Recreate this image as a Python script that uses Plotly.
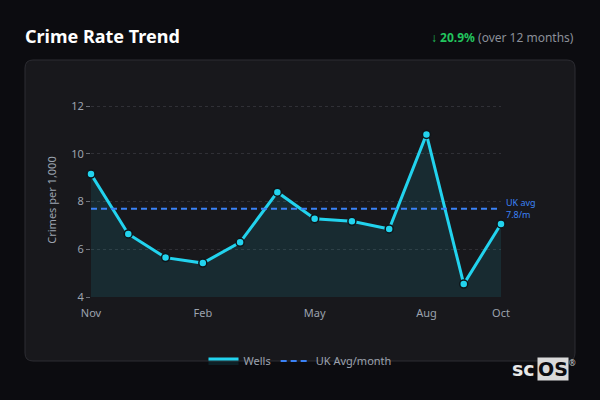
import plotly.graph_objects as go

months = ["Nov", "Dec", "Jan", "Feb", "Mar", "Apr", "May", "Jun", "Jul", "Aug", "Sep", "Oct"]
wells = [9.15, 6.64, 5.65, 5.42, 6.29, 8.39, 7.28, 7.17, 6.85, 10.81, 4.54, 7.06]
uk_avg = [7.7] * len(months)
tick_months = ["Nov", "Feb", "May", "Aug", "Oct"]
y_ticks = [4, 6, 8, 10, 12]

BG = "#0c0c10"
CARD = "#18181c"
CYAN = "#22d3ee"
BLUE = "#3b82f6"
GREY = "#9ca3af"

# plot area in pixels: x 91..501, y 103..297 (value 12 sits at y=106)
L, R, T, B = 91, 501, 103, 297
Y_TOP = 4 + 8 * (B - T) / (B - 106)


def px(x):
    return (x - L) / (R - L)


def py(y):
    return (B - y) / (B - T)


def rounded_rect(x0, y0, x1, y1, r):
    rx, ry = r / (R - L), r / (B - T)
    a, b, c, d = px(x0), py(y1), px(x1), py(y0)  # left, bottom, right, top
    return (f"M {a+rx},{b} L {c-rx},{b} Q {c},{b} {c},{b+ry} "
            f"L {c},{d-ry} Q {c},{d} {c-rx},{d} L {a+rx},{d} "
            f"Q {a},{d} {a},{d-ry} L {a},{b+ry} Q {a},{b} {a+rx},{b} Z")


fig = go.Figure()
fig.add_trace(go.Scatter(
    x=months, y=wells, name="Wells", mode="lines",
    line=dict(color=CYAN, width=3),
    fill="tozeroy", fillcolor="rgba(34,211,238,0.10)",
))
fig.add_trace(go.Scatter(
    x=months, y=uk_avg, name="UK Avg/month", mode="lines",
    line=dict(color=BLUE, width=2, dash="6px,4px"),
))
fig.add_trace(go.Scatter(
    x=months, y=wells, name="Wells", mode="markers", showlegend=False,
    cliponaxis=False,
    marker=dict(size=8, color=CYAN, line=dict(color="#0e1418", width=1.5)),
))

fig.add_shape(type="path", xref="paper", yref="paper", layer="below",
              path=rounded_rect(25, 60, 575, 361, 8),
              fillcolor=CARD, line=dict(color="#2c2c32", width=1))

fig.add_annotation(x=months[-1], y=uk_avg[-1], text="UK avg<br>7.8/m",
                   showarrow=False, xanchor="left", yanchor="middle", xshift=3,
                   align="left", font=dict(size=9, color=BLUE))
fig.add_annotation(x=px(576), y=py(37), xref="paper", yref="paper",
                   xanchor="right", yanchor="middle", showarrow=False,
                   text="<span style='color:#22c55e'><b>↓ 20.9%</b></span> (over 12 months)",
                   font=dict(size=12, color="#8b8f98"))
fig.add_annotation(x=px(537), y=py(369), xref="paper", yref="paper",
                   xanchor="right", yanchor="middle", showarrow=False,
                   text="<b>sc</b>", font=dict(size=19, color="#e8e8e8", family="DejaVu Sans"))
fig.add_annotation(x=px(537), y=py(369), xref="paper", yref="paper",
                   xanchor="left", yanchor="middle", showarrow=False,
                   text="<b>OS</b>", bgcolor="#d9d9d9", borderpad=0,
                   font=dict(size=19, color="#0c0c10", family="DejaVu Sans"))
fig.add_annotation(x=px(572), y=py(362), xref="paper", yref="paper",
                   xanchor="center", yanchor="middle", showarrow=False,
                   text="®", font=dict(size=8, color="#d0d0d0"))

fig.update_layout(
    width=600, height=400,
    margin=dict(l=L, r=600 - R, t=T, b=400 - B),
    paper_bgcolor=BG, plot_bgcolor=CARD,
    font=dict(family="Noto Sans", color=GREY, size=11),
    title=dict(text="<b>Crime Rate Trend</b>", xref="container", yref="container",
               x=25 / 600, y=1 - 37 / 400, xanchor="left", yanchor="middle",
               font=dict(size=18, color="#ffffff")),
    legend=dict(orientation="h", xref="container", yref="container",
                x=0.5, y=1 - 361 / 400, xanchor="center", yanchor="middle",
                bgcolor="rgba(0,0,0,0)", font=dict(size=11, color=GREY)),
    showlegend=True,
    xaxis=dict(range=[0, len(months) - 1], tickvals=tick_months, ticktext=tick_months,
               showgrid=False, zeroline=False, showline=False, ticks="outside",
               ticklen=6, tickcolor="rgba(0,0,0,0)",
               tickfont=dict(size=11, color=GREY)),
    yaxis=dict(range=[4, Y_TOP], tickvals=y_ticks, showgrid=True, gridcolor="#303036",
               griddash="3px,3px", gridwidth=1, zeroline=False, showline=False,
               ticks="outside", ticklen=4, tickcolor="#6b6f78",
               tickfont=dict(size=11, color=GREY),
               title=dict(text="Crimes per 1,000", standoff=12, font=dict(size=11, color=GREY))),
)

fig.write_html("out.html", config={"displayModeBar": False},
               post_script="document.body.style.margin='0';")
